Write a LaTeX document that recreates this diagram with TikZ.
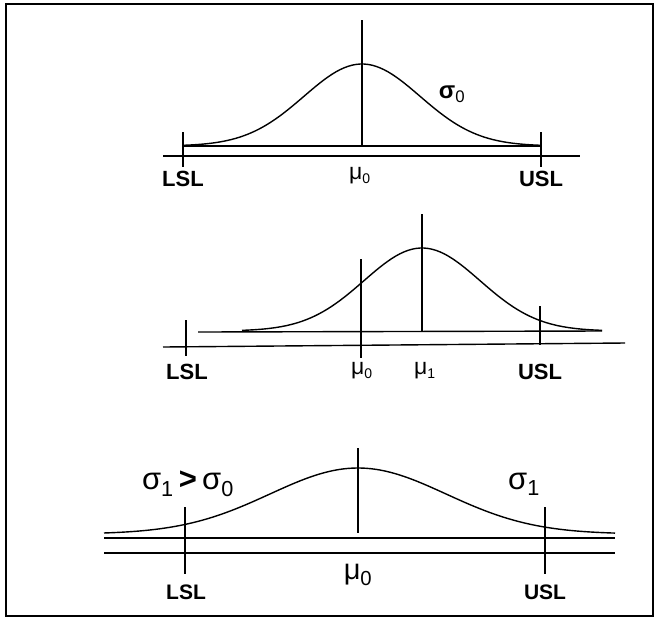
\documentclass[tikz,border=0pt]{standalone}
\usepackage{fontspec}
\setmainfont{Liberation Sans}
\newcommand{\lbl}[1]{{\fontsize{22}{22}\selectfont\bfseries #1}}
\newcommand{\mulbl}[1]{{\fontsize{23}{23}\selectfont μ\textsubscript{\fontsize{14}{14}\selectfont #1}}}
\begin{document}
\begin{tikzpicture}[x=1pt, y=-1pt, line width=1.4pt]
    \useasboundingbox (0,0) rectangle (655,619);
    \draw[line width=2.8pt] (6,4) rectangle (653,616);

    % top: centred process
    \path (183,146) coordinate (LA);
    \path (541,146) coordinate (UA);
    \path (362,20) coordinate (MA);
    \draw (LA) -- (UA);
    \draw (163,156) -- (580,156);
    \draw (183,132) -- (183,167);
    \draw (541,132) -- (541,167);
    \draw (MA) -- (362,146);
    \draw plot[domain=183:541, samples=90] (\x, {146 - 82*exp(-((\x-362)/58)^2/2)});
    \node at (183,179) {\lbl{LSL}};
    \node at (541,179) {\lbl{USL}};
    \node at (360,176) {\mulbl{0}};
    \node at (452,94) {\fontsize{24}{24}\selectfont\bfseries σ\textsubscript{\mdseries 0}};

    % middle: shifted mean
    \path (163,347) coordinate (LB);
    \path (625,343) coordinate (RB);
    \draw (LB) -- (RB);
    \draw (198,332) -- (602,331);
    \draw (186,320) -- (186,356);
    \draw (540,306) -- (540,345);
    \draw (361,259) -- (361,358);
    \draw (422,214) -- (422,331);
    \draw plot[domain=242:602, samples=90] (\x, {331 - 83*exp(-((\x-422)/58)^2/2)});
    \node at (187,372) {\lbl{LSL}};
    \node at (540,372) {\lbl{USL}};
    \node at (362,371) {\mulbl{0}};
    \node at (425,371) {\mulbl{1}};

    % bottom: wider spread
    \draw (104,538) -- (615,538);
    \draw (104,553) -- (615,553);
    \draw (185,507) -- (185,574);
    \draw (545,507) -- (545,574);
    \draw (358,448) -- (358,533);
    \draw plot[domain=104:615, samples=110] (\x, {534 - 66*exp(-((\x-358)/88)^2/2)});
    \node at (188,484) {\fontsize{31}{31}\selectfont σ\textsubscript{1}\,\textbf{>}\,σ\textsubscript{0}};
    \node at (524,484) {\fontsize{31}{31}\selectfont σ\textsubscript{1}};
    \node at (358,575) {\fontsize{29}{29}\selectfont μ\textsubscript{0}};
    \node at (186,592) {\fontsize{21}{21}\selectfont\bfseries LSL};
    \node at (545,592) {\fontsize{21}{21}\selectfont\bfseries USL};
\end{tikzpicture}
\end{document}
